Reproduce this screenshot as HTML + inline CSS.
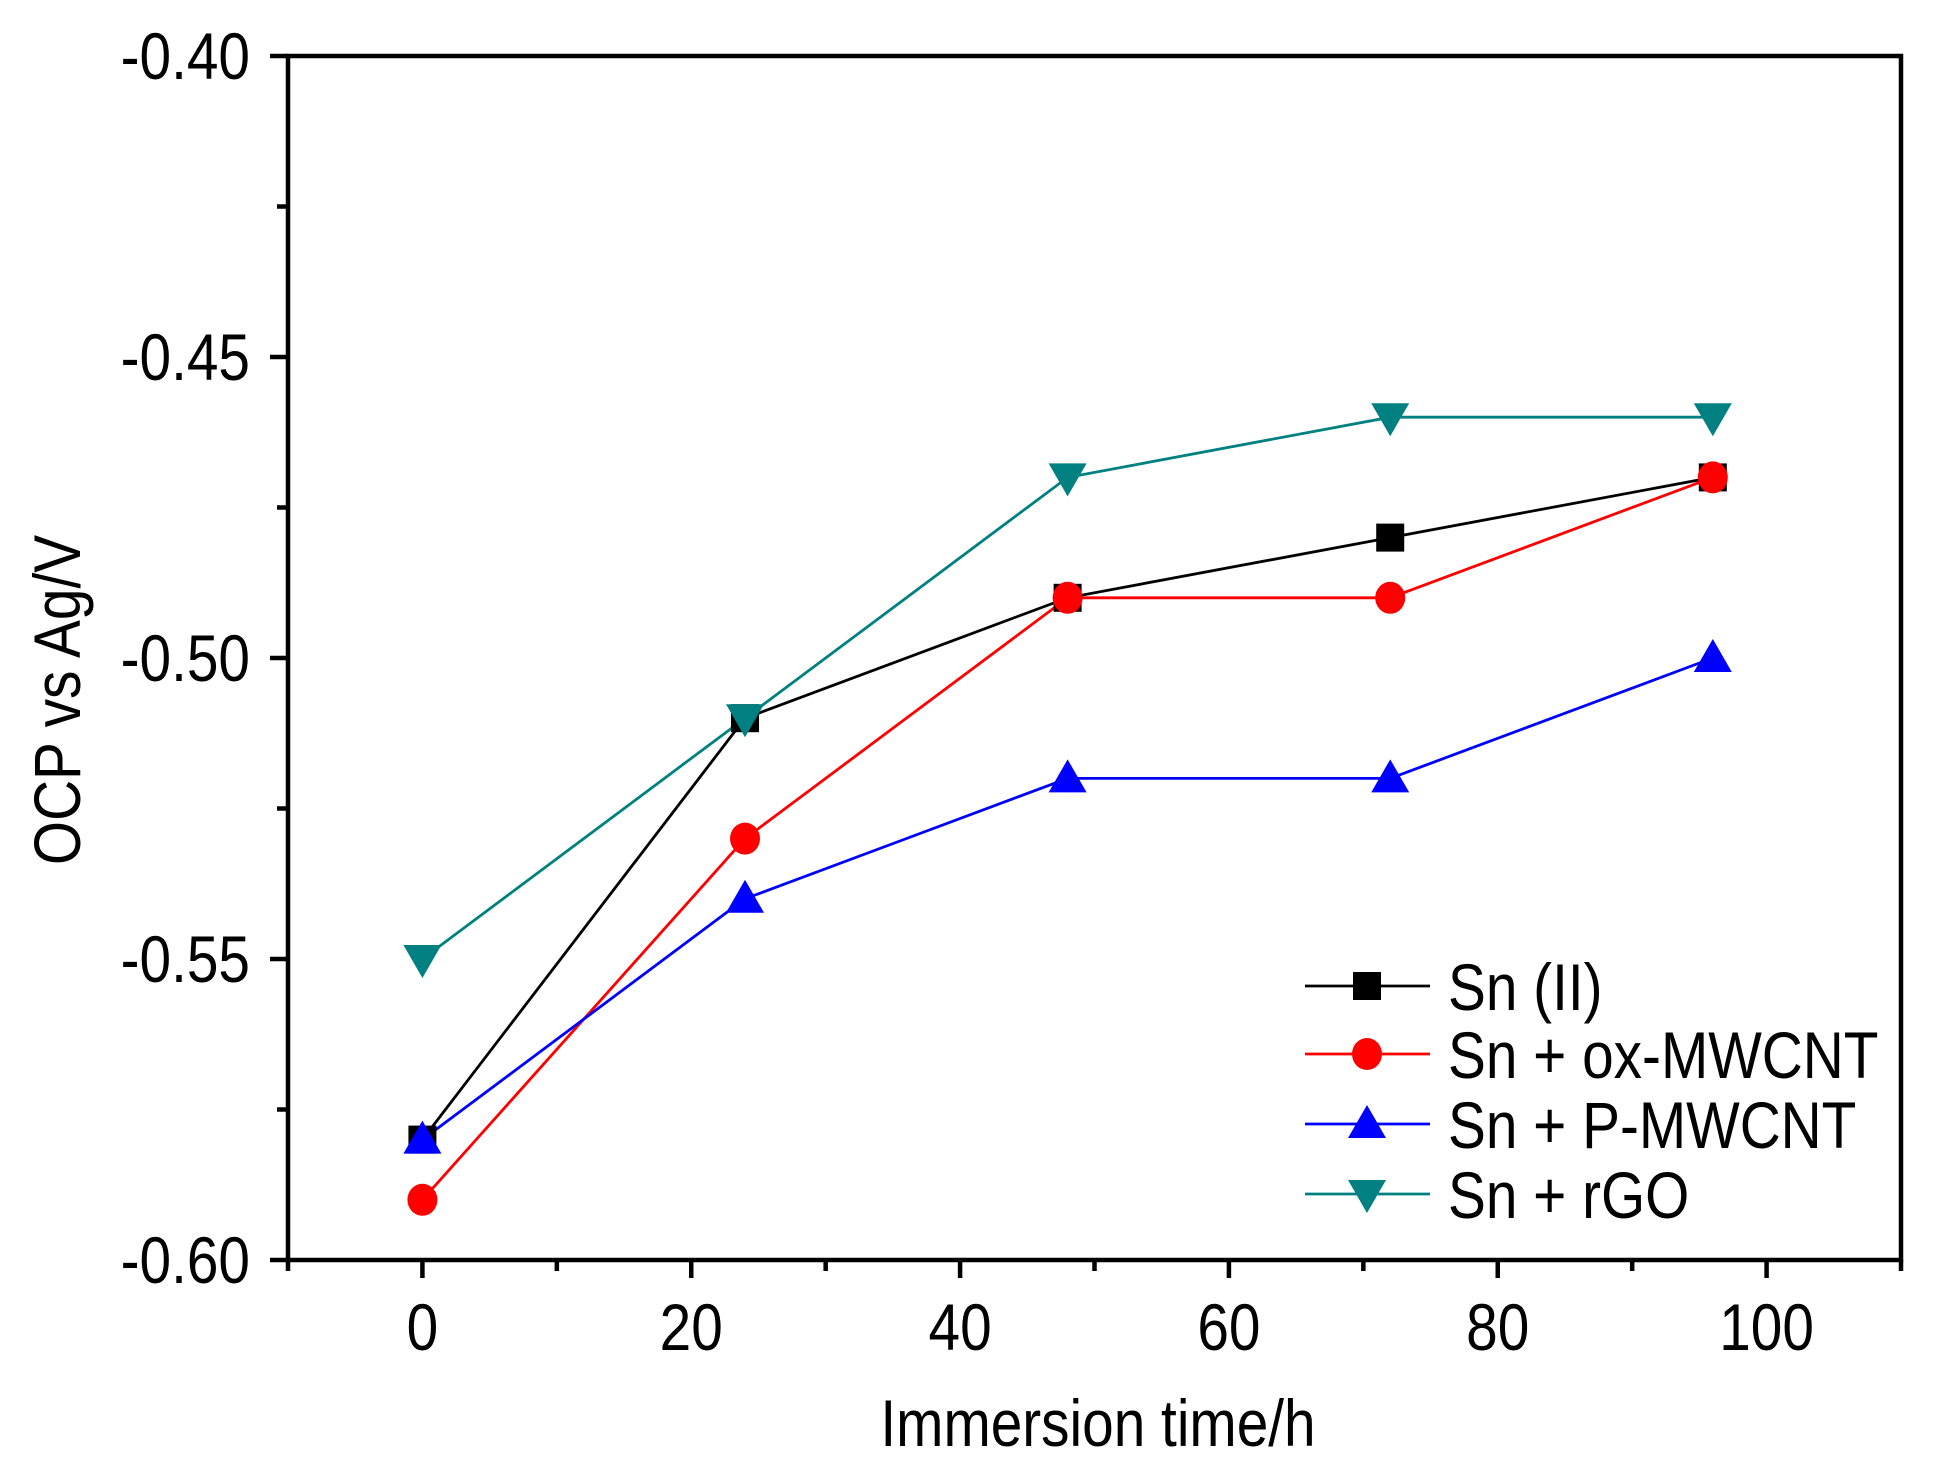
<!DOCTYPE html>
<html><head><meta charset="utf-8"><style>
html,body{margin:0;padding:0;background:#fff;}
svg{display:block;}
text{font-family:"Liberation Sans",Arial,sans-serif;fill:#000;}
</style></head><body>
<svg id="chart" width="1942" height="1462" viewBox="0 0 1942 1462"></svg>
<script>
const xValues = [0, 24, 48, 72, 96];
const seriesNames = ["Sn (II)", "Sn + ox-MWCNT", "Sn + P-MWCNT", "Sn + rGO"];
const snII = [-0.58, -0.51, -0.49, -0.48, -0.47];
const snOx = [-0.59, -0.53, -0.49, -0.49, -0.47];
const snP = [-0.58, -0.54, -0.52, -0.52, -0.50];
const snRGO = [-0.55, -0.51, -0.47, -0.46, -0.46];
const xTickLabels = ["0", "20", "40", "60", "80", "100"];
const yTickLabels = ["-0.60", "-0.55", "-0.50", "-0.45", "-0.40"];

const NS = "http://www.w3.org/2000/svg";
const svg = document.getElementById("chart");
const L = 288, R = 1901, T = 56, B = 1260;
const xMin = -10, xMax = 110, yMin = -0.60, yMax = -0.40;
const CX = 0.86;
function sx(v){ return L + (v - xMin) / (xMax - xMin) * (R - L); }
function sy(v){ return B - (v - yMin) / (yMax - yMin) * (B - T); }
function mk(tag, attrs){
  const e = document.createElementNS(NS, tag);
  for (const k in attrs) e.setAttribute(k, attrs[k]);
  svg.appendChild(e);
  return e;
}
function txt(x, y, size, anchor, str, rot){
  const tr = "translate(" + x + "," + y + ")" + (rot ? " rotate(-90)" : "") + " scale(" + CX + ",1)";
  const t = mk("text", {x:0, y:0, "font-size":size, "text-anchor":anchor, transform:tr});
  t.textContent = str;
  return t;
}

const frame = mk("rect", {x:L, y:T, width:R-L, height:B-T, fill:"none", stroke:"#000", "stroke-width":4.5});



for (let v = -10; v <= 110; v += 10) {
  const major = (v % 20 === 0);
  const t = mk("line", {x1:sx(v), x2:sx(v), y1:B, y2:B + (major ? 18 : 11), stroke:"#000", "stroke-width":4.5});
  
  
}
xTickLabels.forEach(function(lab){
  const t = txt(sx(+lab), 1350, 66, "middle", lab);
  
  
});
for (let i = 0; i <= 8; i++) {
  const v = yMin + i * 0.025;
  const major = (i % 2 === 0);
  const t = mk("line", {x1:L - (major ? 18 : 11), x2:L, y1:sy(v), y2:sy(v), stroke:"#000", "stroke-width":4.5});
  
  
}
yTickLabels.forEach(function(lab){
  const t = txt(250, sy(+lab) + 23, 66, "end", lab);
  
  
});
const xt = txt(1098, 1446, 66, "middle", "Immersion time/h");


const yt = txt(80, 700, 66, "middle", "OCP vs Ag/V", true);



function marker(shape, x, y, color){
  const s = 17;
  let e;
  if (shape === "square") e = mk("rect", {x:x-14, y:y-14, width:28, height:28, fill:color});
  else if (shape === "circle") e = mk("ellipse", {cx:x, cy:y, rx:15, ry:16, fill:color});
  else if (shape === "up") e = mk("polygon", {points:(x)+","+(y-s-2)+" "+(x+s+2)+","+(y+s-3)+" "+(x-s-2)+","+(y+s-3), fill:color});
  else e = mk("polygon", {points:(x)+","+(y+s+2)+" "+(x+s+2)+","+(y-s+3)+" "+(x-s-2)+","+(y-s+3), fill:color});
  return e;
}

const seriesData = [snII, snOx, snP, snRGO];
const colors = ["#000000", "#ff0000", "#0000ff", "#008080"];
const shapes = ["square", "circle", "up", "down"];
const keys = ["sn-ii", "sn-ox-mwcnt", "sn-p-mwcnt", "sn-rgo"];

seriesData.forEach(function(vals, si){
  const pts = vals.map(function(v, i){ return sx(xValues[i]) + "," + sy(v); }).join(" ");
  const pl = mk("polyline", {points:pts, fill:"none", stroke:colors[si], "stroke-width":2.8});
  
  
});
seriesData.forEach(function(vals, si){
  vals.forEach(function(v, i){
    const m = marker(shapes[si], sx(xValues[i]), sy(v), colors[si]);
    
    
  });
});

const legendY = [986, 1054, 1124, 1194];
seriesNames.forEach(function(name, si){
  const y = legendY[si];
  const ln = mk("line", {x1:1305, x2:1430, y1:y, y2:y, stroke:colors[si], "stroke-width":2.8});
  
  
  const m = marker(shapes[si], 1367, y, colors[si]);
  
  
  const t = txt(1448, y + 24, 66, "start", name);
  
  
});
</script>
</body></html>
